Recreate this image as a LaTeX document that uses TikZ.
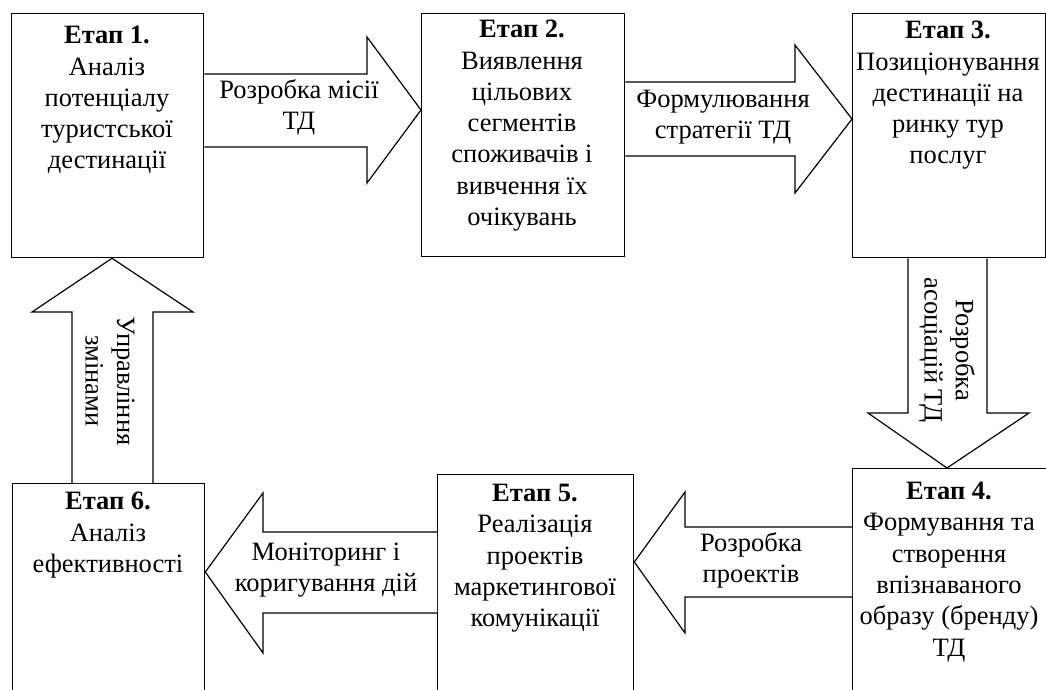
\documentclass[tikz,border=0pt]{standalone}
\usepackage{fontspec}
\setmainfont{Liberation Serif}
\begin{document}
\begin{tikzpicture}[x=1pt,y=-1pt]
\tikzset{
  stage/.style={draw, line width=1.3pt, anchor=north west, inner sep=0pt},
  blockarrow/.style={draw, line width=1.2pt, fill=white, line join=miter},
  txt/.style={align=center, inner sep=0pt, font=\fontsize{26.5}{31.3}\selectfont},
}
\useasboundingbox (0,0) rectangle (1046,689);
\clip (0,0) rectangle (1046,689);
% stage boxes
\node[stage, minimum width=192pt, minimum height=244pt] (b1) at (11,13) {};
\node[stage, minimum width=203pt, minimum height=243pt] (b2) at (421,13) {};
\node[stage, minimum width=193pt, minimum height=244pt] (b3) at (852,13) {};
\node[stage, minimum width=194pt, minimum height=240pt] (b4) at (852,468) {};
\node[stage, minimum width=196pt, minimum height=230pt] (b5) at (437,474) {};
\node[stage, minimum width=192pt, minimum height=220pt] (b6) at (12,483) {};
% block arrows
\draw[blockarrow] (b1.east |- 0,74) -- (367,74) -- (367,37) -- (b2.west |- 0,110)
  -- (367,183) -- (367,147) -- (b1.east |- 0,147);
\draw[blockarrow] (b2.east |- 0,82) -- (795,82) -- (795,45) -- (b3.west |- 0,119)
  -- (795,193) -- (795,156) -- (b2.east |- 0,156);
\draw[blockarrow] (b3.south -| 908,0) -- (908,413) -- (868,413) -- (b4.north -| 947,0)
  -- (1029,413) -- (987,413) -- (b3.south -| 987,0);
\draw[blockarrow] (b4.west |- 0,527) -- (685,527) -- (685,492) -- (b5.east |- 0,562)
  -- (685,633) -- (685,597) -- (b4.west |- 0,597);
\draw[blockarrow] (b5.west |- 0,532) -- (263,532) -- (263,493) -- (b6.east |- 0,572)
  -- (263,653) -- (263,613) -- (b5.west |- 0,613);
\draw[blockarrow] (b6.north -| 72,0) -- (72,312) -- (32,312) -- (b1.south -| 112,0)
  -- (193,312) -- (153,312) -- (b6.north -| 153,0);
% stage texts
\node[txt, anchor=north] (t1) at (107,26) {\textbf{Етап 1.}\\Аналіз\\потенціалу\\туристської\\дестинації};
\node[txt, anchor=north] (t2) at (522,20) {\textbf{Етап 2.}\\Виявлення\\цільових\\сегментів\\споживачів і\\вивчення їх\\очікувань};
\node[txt, anchor=north] (t3) at (948,21) {\textbf{Етап 3.}\\Позиціонування\\дестинації на\\ринку тур\\послуг};
\node[txt, anchor=north] (t4) at (949,482) {\textbf{Етап 4.}\\Формування та\\створення\\впізнаваного\\образу (бренду)\\ТД};
\node[txt, anchor=north] (t5) at (535,484) {\textbf{Етап 5.}\\Реалізація\\проектів\\маркетингової\\комунікації};
\node[txt, anchor=north] (t6) at (108,492) {\textbf{Етап 6.}\\Аналіз\\ефективності};
% arrow labels
\node[txt] (l1) at (299,107) {Розробка місії\\ТД};
\node[txt] (l2) at (723,117) {Формулювання\\стратегії ТД};
\node[txt, rotate=-90] (l3) at (947,350) {Розробка\\асоціацій ТД};
\node[txt] (l4) at (751,560) {Розробка\\проектів};
\node[txt] (l5) at (326,570) {Моніторинг і\\коригування дій};
\node[txt, rotate=-90] (l6) at (110,381) {Управління\\змінами};
\end{tikzpicture}
\end{document}
